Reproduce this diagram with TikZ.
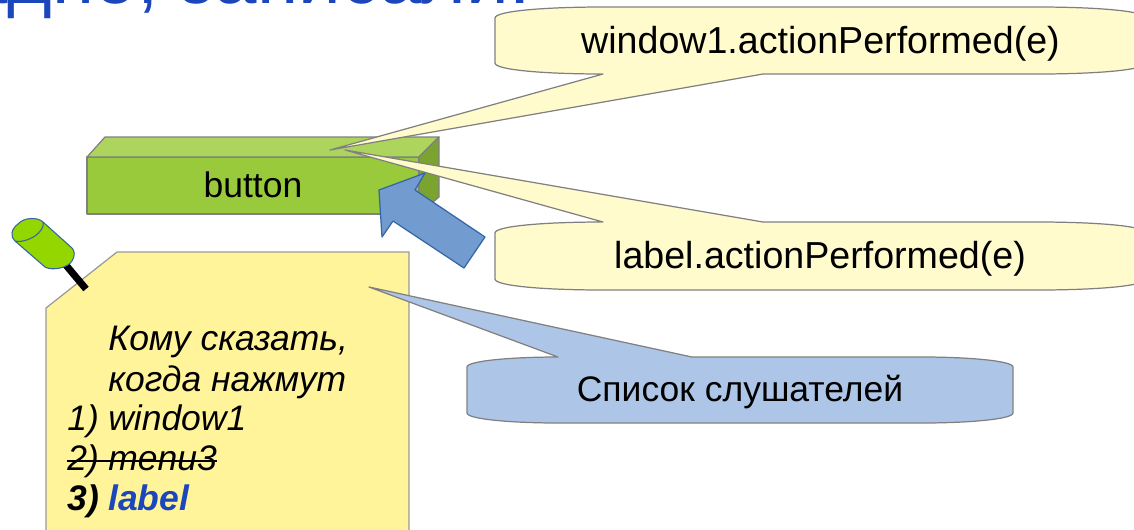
\documentclass[tikz,border=0pt]{standalone}
\usepackage{xcolor}
\usepackage{fontspec}
\setmainfont{Liberation Sans}
\usepackage{tikz}
\definecolor{titleblue}{HTML}{1C46BC}
\definecolor{boxfront}{HTML}{99CA3C}
\definecolor{boxtop}{HTML}{ADD55E}
\definecolor{boxside}{HTML}{7BA32F}
\definecolor{noteyellow}{HTML}{FFF499}
\definecolor{talkyellow}{HTML}{FFFBCC}
\definecolor{talkblue}{HTML}{ADC5E7}
\definecolor{arrowblue}{HTML}{729CCF}
\definecolor{arrowedge}{HTML}{3465A4}
\definecolor{pingreen}{HTML}{94D600}

\begin{document}
\begin{tikzpicture}[x=0.02cm,y=-0.02cm,
    txt/.style={font=\fontsize{20.2}{25}\selectfont,inner sep=0pt},
    calltxt/.style={font=\fontsize{21.4}{25}\selectfont,inner sep=0pt},
    item/.style={inner sep=0pt,anchor=base west,font=\fontsize{20.2}{25}\selectfont\itshape},
    edge3d/.style={draw=black!50,line width=0.7pt,line join=round},
    talk/.style={draw=black!50,line width=0.7pt,line join=round}]
    \clip (0,0) rectangle (1134,529);

    \node[anchor=base east,inner sep=0pt,text=titleblue,font=\fontsize{43.5}{50}\selectfont] (title) at (531,3) {Ладно, записали:};

    % the button
    \fill[boxfront,edge3d] (87,157) rectangle (419,214);
    \fill[boxtop,edge3d] (87,157) -- (105,137) -- (439,137) -- (419,157) -- cycle;
    \fill[boxside,edge3d] (419,157) -- (439,137) -- (439,197) -- (419,214) -- cycle;
    \node[txt] (button) at (253,185) {button};

    % the callouts
    \coordinate (tip1) at (330,150);
    \coordinate (tip2) at (345,150);
    \coordinate (tip3) at (369,287);
    \path[talk,fill=talkyellow] (495,18) .. controls (495,11) and (545,7) .. (603,7) -- (1038,7)
      .. controls (1096,7) and (1146,11) .. (1146,18) -- (1146,63)
      .. controls (1146,70) and (1096,74) .. (1038,74) -- (763,74) -- (tip1) -- (603,74)
      .. controls (545,74) and (495,70) .. (495,63) -- cycle;
    \path[talk,fill=talkyellow] (495,233) .. controls (495,226) and (545,222) .. (603,222) -- (tip2) -- (763,222) -- (1038,222)
      .. controls (1096,222) and (1146,226) .. (1146,233) -- (1146,279)
      .. controls (1146,286) and (1096,290) .. (1038,290) -- (603,290)
      .. controls (545,290) and (495,286) .. (495,279) -- cycle;
    \node[calltxt] (window) at (820.5,44) {window1.actionPerformed(e)};
    \node[calltxt] (label) at (820,259) {label.actionPerformed(e)};

    % the arrow
    \path[draw=arrowedge,fill=arrowblue,line width=0.7pt,line join=round] (379,190) -- (425,173) -- (415,190) -- (485,237)
      -- (464,268) -- (393,221) -- (382,237) -- cycle;

    % the note with its pin
    \path[fill=noteyellow,draw=black!40,line width=0.7pt] (46,540) -- (46,308) -- (117,252) -- (409,252) -- (409,540);
    \draw[line width=4pt] (65,264) -- (86,289);
    \path[fill=pingreen,draw=arrowedge,line width=0.6pt] (15,241) -- (45,267)
      .. controls (52,271) and (68,268) .. (72,261) .. controls (75,256) and (75,251) .. (72,248) -- (43,222)
      .. controls (38,217) and (24,217) .. (18,224) .. controls (11,229) and (10,237) .. (15,241)
      .. controls (22,243) and (36,238) .. (41,230) .. controls (43,227) and (44,224) .. (43,222);

    \path[talk,fill=talkblue] (467,367) .. controls (467,361) and (510,357) .. (558,357) -- (tip3) -- (692,357) -- (922,357)
      .. controls (970,357) and (1013,361) .. (1013,367) -- (1013,413)
      .. controls (1013,419) and (970,423) .. (922,423) -- (558,423)
      .. controls (510,423) and (467,419) .. (467,413) -- cycle;
    \node[txt] (listeners) at (740,392) {Список слушателей};

    \node[item] (line1) at (108,350) {Кому сказать,};
    \node[item] (line2) at (108,391) {когда нажмут};
    \node[item] (item1) at (67,430) {\makebox[23.3pt][l]{1)}window1};
    \node[item] (item2) at (67,470) {\makebox[23.3pt][l]{2)}menu3};
    \node[item] (item3) at (67,510) {\makebox[23.3pt][l]{\bfseries 3)}\textbf{\textcolor{titleblue}{label}}};
    \draw[line width=0.9pt] ([yshift=5pt]item2.base west) -- ([yshift=5pt]item2.base east);
\end{tikzpicture}
\end{document}
